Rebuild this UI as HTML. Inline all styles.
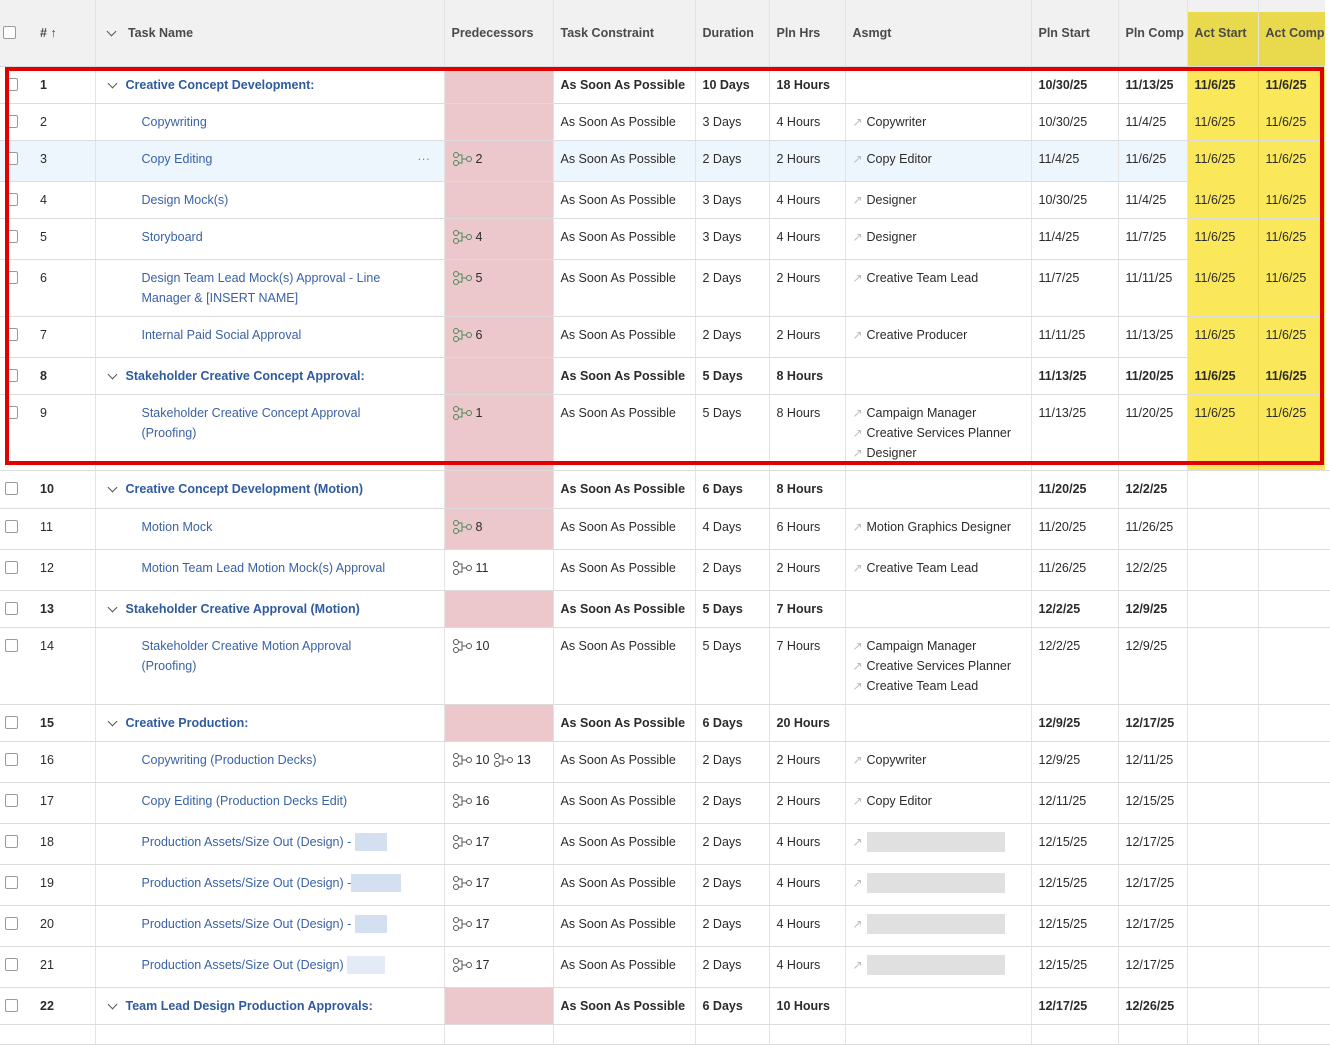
<!DOCTYPE html>
<html><head><meta charset="utf-8"><style>
*{box-sizing:border-box;margin:0;padding:0}
body{width:1330px;height:1030px;overflow:hidden;background:#fff;font-family:"Liberation Sans",Arial,sans-serif;font-size:12.5px;color:#2b2b2b;position:relative}
table{border-collapse:collapse;table-layout:fixed;position:absolute;left:0;top:0;width:1330px}
td,th{border-right:1px solid #e3e3e3;border-bottom:1px solid #dcdcdc;vertical-align:top;padding:8px 0 0 7px;line-height:20px;white-space:nowrap;overflow:hidden}
th{height:66px;background:#f1f1f1;font-weight:bold;color:#4a4a4a;font-size:12.5px;text-align:left;vertical-align:middle;padding-top:0;border-bottom:1px solid #d8d8d8}
th.y{background:#e9d94c}
td.y{background:#fbe85a;border-right:1px solid #e6d64a}
td.p{background:#ecc8cc}
tr.b td{font-weight:bold}
tr.sel td{background:#eef6fd}
tr.sel td.p{background:#ecc8cc}
tr.sel td.y{background:#fbe85a}
.cb{display:inline-block;width:13px;height:13px;border:1px solid #9a9a9a;border-radius:2px;background:#fff;vertical-align:middle;margin-top:-2px;margin-left:-2px}
.n{display:inline-block;margin-left:22px}
.t{color:#3a62a5;padding-left:46px}
tr.b .t{padding-left:13px;color:#2f5b9e}
.chev{display:inline-block;width:7px;height:7px;border-right:1.5px solid #555;border-bottom:1.5px solid #555;transform:rotate(45deg);margin:0 10px 3px 0;vertical-align:middle}
.ic{display:inline-block;vertical-align:middle;margin-right:2px;margin-top:-1px}
.a{display:inline-block;width:10px;color:#bbb;font-size:12px;margin-right:4px}
.blur{display:inline-block;width:138px;height:20px;background:#e0e0e0;vertical-align:middle}
.bb{display:inline-block;height:18px;background:#d4dff0;vertical-align:middle}
.red{position:absolute;left:5px;top:67px;width:1319px;height:398px;border:4px solid #e00000}
.wcover{position:absolute;left:1325px;top:0;width:5px;height:470px;background:#fff}
</style></head><body>
<table>
<colgroup><col style="width:95px"><col style="width:349px"><col style="width:109px"><col style="width:142px"><col style="width:74px"><col style="width:76px"><col style="width:186px"><col style="width:87px"><col style="width:69px"><col style="width:71px"><col style="width:72px"></colgroup>
<tr><th style="padding-left:5px"><span class="cb"></span><span style="margin-left:24px">#&nbsp;↑</span></th><th style="padding-left:12px"><span class="chev"></span> Task Name</th><th>Predecessors</th><th>Task Constraint</th><th>Duration</th><th>Pln Hrs</th><th>Asmgt</th><th>Pln Start</th><th>Pln Comp</th><th class="y" style="background:linear-gradient(#f1f1f1 12px,#e9d94c 12px)">Act Start</th><th class="y" style="background:linear-gradient(#f1f1f1 12px,#e9d94c 12px)">Act Comp</th></tr>

<tr class="b" style="height:37px"><td><span class="cb"></span><span class="n">1</span></td><td class="t"><span class="chev"></span>Creative Concept Development:</td><td class="p"></td><td>As Soon As Possible</td><td>10 Days</td><td>18 Hours</td><td></td><td>10/30/25</td><td>11/13/25</td><td class="y">11/6/25</td><td class="y">11/6/25</td></tr>
<tr style="height:37px"><td><span class="cb"></span><span class="n">2</span></td><td class="t">Copywriting</td><td class="p"></td><td>As Soon As Possible</td><td>3 Days</td><td>4 Hours</td><td><span class="a">↗</span>Copywriter</td><td>10/30/25</td><td>11/4/25</td><td class="y">11/6/25</td><td class="y">11/6/25</td></tr>
<tr class="sel" style="height:41px"><td><span class="cb"></span><span class="n">3</span></td><td class="t">Copy Editing<span style="position:relative;left:205px;color:#888">···</span></td><td class="p"><svg class="ic" width="22" height="14"><circle cx="4" cy="3" r="2.5" fill="none" stroke="#4a8a5a"/><circle cx="4" cy="11" r="2.5" fill="none" stroke="#4a8a5a"/><path d="M7 3H10V11H7M10 7H14" fill="none" stroke="#4a8a5a"/><circle cx="17" cy="7" r="2.5" fill="none" stroke="#4a8a5a"/></svg>2</td><td>As Soon As Possible</td><td>2 Days</td><td>2 Hours</td><td><span class="a">↗</span>Copy Editor</td><td>11/4/25</td><td>11/6/25</td><td class="y">11/6/25</td><td class="y">11/6/25</td></tr>
<tr style="height:37px"><td><span class="cb"></span><span class="n">4</span></td><td class="t">Design Mock(s)</td><td class="p"></td><td>As Soon As Possible</td><td>3 Days</td><td>4 Hours</td><td><span class="a">↗</span>Designer</td><td>10/30/25</td><td>11/4/25</td><td class="y">11/6/25</td><td class="y">11/6/25</td></tr>
<tr style="height:41px"><td><span class="cb"></span><span class="n">5</span></td><td class="t">Storyboard</td><td class="p"><svg class="ic" width="22" height="14"><circle cx="4" cy="3" r="2.5" fill="none" stroke="#4a8a5a"/><circle cx="4" cy="11" r="2.5" fill="none" stroke="#4a8a5a"/><path d="M7 3H10V11H7M10 7H14" fill="none" stroke="#4a8a5a"/><circle cx="17" cy="7" r="2.5" fill="none" stroke="#4a8a5a"/></svg>4</td><td>As Soon As Possible</td><td>3 Days</td><td>4 Hours</td><td><span class="a">↗</span>Designer</td><td>11/4/25</td><td>11/7/25</td><td class="y">11/6/25</td><td class="y">11/6/25</td></tr>
<tr style="height:57px"><td><span class="cb"></span><span class="n">6</span></td><td class="t">Design Team Lead Mock(s) Approval - Line<br>Manager &amp; [INSERT NAME]</td><td class="p"><svg class="ic" width="22" height="14"><circle cx="4" cy="3" r="2.5" fill="none" stroke="#4a8a5a"/><circle cx="4" cy="11" r="2.5" fill="none" stroke="#4a8a5a"/><path d="M7 3H10V11H7M10 7H14" fill="none" stroke="#4a8a5a"/><circle cx="17" cy="7" r="2.5" fill="none" stroke="#4a8a5a"/></svg>5</td><td>As Soon As Possible</td><td>2 Days</td><td>2 Hours</td><td><span class="a">↗</span>Creative Team Lead</td><td>11/7/25</td><td>11/11/25</td><td class="y">11/6/25</td><td class="y">11/6/25</td></tr>
<tr style="height:41px"><td><span class="cb"></span><span class="n">7</span></td><td class="t">Internal Paid Social Approval</td><td class="p"><svg class="ic" width="22" height="14"><circle cx="4" cy="3" r="2.5" fill="none" stroke="#4a8a5a"/><circle cx="4" cy="11" r="2.5" fill="none" stroke="#4a8a5a"/><path d="M7 3H10V11H7M10 7H14" fill="none" stroke="#4a8a5a"/><circle cx="17" cy="7" r="2.5" fill="none" stroke="#4a8a5a"/></svg>6</td><td>As Soon As Possible</td><td>2 Days</td><td>2 Hours</td><td><span class="a">↗</span>Creative Producer</td><td>11/11/25</td><td>11/13/25</td><td class="y">11/6/25</td><td class="y">11/6/25</td></tr>
<tr class="b" style="height:37px"><td><span class="cb"></span><span class="n">8</span></td><td class="t"><span class="chev"></span>Stakeholder Creative Concept Approval:</td><td class="p"></td><td>As Soon As Possible</td><td>5 Days</td><td>8 Hours</td><td></td><td>11/13/25</td><td>11/20/25</td><td class="y">11/6/25</td><td class="y">11/6/25</td></tr>
<tr style="height:76px"><td><span class="cb"></span><span class="n">9</span></td><td class="t">Stakeholder Creative Concept Approval<br>(Proofing)</td><td class="p"><svg class="ic" width="22" height="14"><circle cx="4" cy="3" r="2.5" fill="none" stroke="#4a8a5a"/><circle cx="4" cy="11" r="2.5" fill="none" stroke="#4a8a5a"/><path d="M7 3H10V11H7M10 7H14" fill="none" stroke="#4a8a5a"/><circle cx="17" cy="7" r="2.5" fill="none" stroke="#4a8a5a"/></svg>1</td><td>As Soon As Possible</td><td>5 Days</td><td>8 Hours</td><td><span class="a">↗</span>Campaign Manager<br><span class="a">↗</span>Creative Services Planner<br><span class="a">↗</span>Designer</td><td>11/13/25</td><td>11/20/25</td><td class="y">11/6/25</td><td class="y">11/6/25</td></tr>
<tr class="b" style="height:38px"><td><span class="cb"></span><span class="n">10</span></td><td class="t"><span class="chev"></span>Creative Concept Development (Motion)</td><td class="p"></td><td>As Soon As Possible</td><td>6 Days</td><td>8 Hours</td><td></td><td>11/20/25</td><td>12/2/25</td><td></td><td></td></tr>
<tr style="height:41px"><td><span class="cb"></span><span class="n">11</span></td><td class="t">Motion Mock</td><td class="p"><svg class="ic" width="22" height="14"><circle cx="4" cy="3" r="2.5" fill="none" stroke="#4a8a5a"/><circle cx="4" cy="11" r="2.5" fill="none" stroke="#4a8a5a"/><path d="M7 3H10V11H7M10 7H14" fill="none" stroke="#4a8a5a"/><circle cx="17" cy="7" r="2.5" fill="none" stroke="#4a8a5a"/></svg>8</td><td>As Soon As Possible</td><td>4 Days</td><td>6 Hours</td><td><span class="a">↗</span>Motion Graphics Designer</td><td>11/20/25</td><td>11/26/25</td><td></td><td></td></tr>
<tr style="height:41px"><td><span class="cb"></span><span class="n">12</span></td><td class="t">Motion Team Lead Motion Mock(s) Approval</td><td><svg class="ic" width="22" height="14"><circle cx="4" cy="3" r="2.5" fill="none" stroke="#555"/><circle cx="4" cy="11" r="2.5" fill="none" stroke="#555"/><path d="M7 3H10V11H7M10 7H14" fill="none" stroke="#555"/><circle cx="17" cy="7" r="2.5" fill="none" stroke="#555"/></svg>11</td><td>As Soon As Possible</td><td>2 Days</td><td>2 Hours</td><td><span class="a">↗</span>Creative Team Lead</td><td>11/26/25</td><td>12/2/25</td><td></td><td></td></tr>
<tr class="b" style="height:37px"><td><span class="cb"></span><span class="n">13</span></td><td class="t"><span class="chev"></span>Stakeholder Creative Approval (Motion)</td><td class="p"></td><td>As Soon As Possible</td><td>5 Days</td><td>7 Hours</td><td></td><td>12/2/25</td><td>12/9/25</td><td></td><td></td></tr>
<tr style="height:77px"><td><span class="cb"></span><span class="n">14</span></td><td class="t">Stakeholder Creative Motion Approval<br>(Proofing)</td><td><svg class="ic" width="22" height="14"><circle cx="4" cy="3" r="2.5" fill="none" stroke="#555"/><circle cx="4" cy="11" r="2.5" fill="none" stroke="#555"/><path d="M7 3H10V11H7M10 7H14" fill="none" stroke="#555"/><circle cx="17" cy="7" r="2.5" fill="none" stroke="#555"/></svg>10</td><td>As Soon As Possible</td><td>5 Days</td><td>7 Hours</td><td><span class="a">↗</span>Campaign Manager<br><span class="a">↗</span>Creative Services Planner<br><span class="a">↗</span>Creative Team Lead</td><td>12/2/25</td><td>12/9/25</td><td></td><td></td></tr>
<tr class="b" style="height:37px"><td><span class="cb"></span><span class="n">15</span></td><td class="t"><span class="chev"></span>Creative Production:</td><td class="p"></td><td>As Soon As Possible</td><td>6 Days</td><td>20 Hours</td><td></td><td>12/9/25</td><td>12/17/25</td><td></td><td></td></tr>
<tr style="height:41px"><td><span class="cb"></span><span class="n">16</span></td><td class="t">Copywriting (Production Decks)</td><td><svg class="ic" width="22" height="14"><circle cx="4" cy="3" r="2.5" fill="none" stroke="#555"/><circle cx="4" cy="11" r="2.5" fill="none" stroke="#555"/><path d="M7 3H10V11H7M10 7H14" fill="none" stroke="#555"/><circle cx="17" cy="7" r="2.5" fill="none" stroke="#555"/></svg>10 <svg class="ic" width="22" height="14"><circle cx="4" cy="3" r="2.5" fill="none" stroke="#555"/><circle cx="4" cy="11" r="2.5" fill="none" stroke="#555"/><path d="M7 3H10V11H7M10 7H14" fill="none" stroke="#555"/><circle cx="17" cy="7" r="2.5" fill="none" stroke="#555"/></svg>13</td><td>As Soon As Possible</td><td>2 Days</td><td>2 Hours</td><td><span class="a">↗</span>Copywriter</td><td>12/9/25</td><td>12/11/25</td><td></td><td></td></tr>
<tr style="height:41px"><td><span class="cb"></span><span class="n">17</span></td><td class="t">Copy Editing (Production Decks Edit)</td><td><svg class="ic" width="22" height="14"><circle cx="4" cy="3" r="2.5" fill="none" stroke="#555"/><circle cx="4" cy="11" r="2.5" fill="none" stroke="#555"/><path d="M7 3H10V11H7M10 7H14" fill="none" stroke="#555"/><circle cx="17" cy="7" r="2.5" fill="none" stroke="#555"/></svg>16</td><td>As Soon As Possible</td><td>2 Days</td><td>2 Hours</td><td><span class="a">↗</span>Copy Editor</td><td>12/11/25</td><td>12/15/25</td><td></td><td></td></tr>
<tr style="height:41px"><td><span class="cb"></span><span class="n">18</span></td><td class="t">Production Assets/Size Out (Design) - <span class="bb" style="width:32px"></span></td><td><svg class="ic" width="22" height="14"><circle cx="4" cy="3" r="2.5" fill="none" stroke="#555"/><circle cx="4" cy="11" r="2.5" fill="none" stroke="#555"/><path d="M7 3H10V11H7M10 7H14" fill="none" stroke="#555"/><circle cx="17" cy="7" r="2.5" fill="none" stroke="#555"/></svg>17</td><td>As Soon As Possible</td><td>2 Days</td><td>4 Hours</td><td><span class="a">↗</span><span class="blur"></span></td><td>12/15/25</td><td>12/17/25</td><td></td><td></td></tr>
<tr style="height:41px"><td><span class="cb"></span><span class="n">19</span></td><td class="t">Production Assets/Size Out (Design) -<span class="bb" style="width:50px"></span></td><td><svg class="ic" width="22" height="14"><circle cx="4" cy="3" r="2.5" fill="none" stroke="#555"/><circle cx="4" cy="11" r="2.5" fill="none" stroke="#555"/><path d="M7 3H10V11H7M10 7H14" fill="none" stroke="#555"/><circle cx="17" cy="7" r="2.5" fill="none" stroke="#555"/></svg>17</td><td>As Soon As Possible</td><td>2 Days</td><td>4 Hours</td><td><span class="a">↗</span><span class="blur"></span></td><td>12/15/25</td><td>12/17/25</td><td></td><td></td></tr>
<tr style="height:41px"><td><span class="cb"></span><span class="n">20</span></td><td class="t">Production Assets/Size Out (Design) - <span class="bb" style="width:32px"></span></td><td><svg class="ic" width="22" height="14"><circle cx="4" cy="3" r="2.5" fill="none" stroke="#555"/><circle cx="4" cy="11" r="2.5" fill="none" stroke="#555"/><path d="M7 3H10V11H7M10 7H14" fill="none" stroke="#555"/><circle cx="17" cy="7" r="2.5" fill="none" stroke="#555"/></svg>17</td><td>As Soon As Possible</td><td>2 Days</td><td>4 Hours</td><td><span class="a">↗</span><span class="blur"></span></td><td>12/15/25</td><td>12/17/25</td><td></td><td></td></tr>
<tr style="height:41px"><td><span class="cb"></span><span class="n">21</span></td><td class="t">Production Assets/Size Out (Design) <span class="bb" style="width:38px;background:#e4ebf6"></span></td><td><svg class="ic" width="22" height="14"><circle cx="4" cy="3" r="2.5" fill="none" stroke="#555"/><circle cx="4" cy="11" r="2.5" fill="none" stroke="#555"/><path d="M7 3H10V11H7M10 7H14" fill="none" stroke="#555"/><circle cx="17" cy="7" r="2.5" fill="none" stroke="#555"/></svg>17</td><td>As Soon As Possible</td><td>2 Days</td><td>4 Hours</td><td><span class="a">↗</span><span class="blur"></span></td><td>12/15/25</td><td>12/17/25</td><td></td><td></td></tr>
<tr class="b" style="height:37px"><td><span class="cb"></span><span class="n">22</span></td><td class="t"><span class="chev"></span>Team Lead Design Production Approvals:</td><td class="p"></td><td>As Soon As Possible</td><td>6 Days</td><td>10 Hours</td><td></td><td>12/17/25</td><td>12/26/25</td><td></td><td></td></tr>
<tr style="height:20px"><td></td><td></td><td></td><td></td><td></td><td></td><td></td><td></td><td></td><td></td><td></td></tr>
</table>
<div class="wcover"></div>
<div class="red"></div>
</body></html>
